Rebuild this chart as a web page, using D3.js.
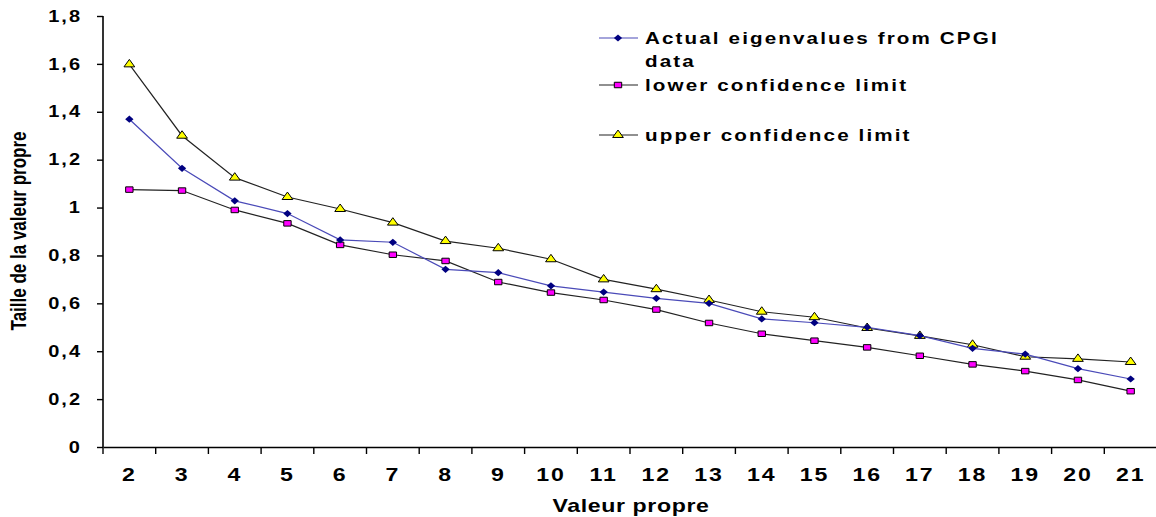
<!DOCTYPE html>
<html>
<head>
<meta charset="utf-8">
<script src="https://cdn.jsdelivr.net/npm/d3@7"></script>
<style>
  body { margin: 0; background: #fff; }
  text { font-family: "Liberation Sans", Arial, sans-serif; font-weight: bold; fill: #000; }
</style>
</head>
<body>
<div id="chart"></div>
<script>
// chart size and plot area
const width = 1156;
const height = 517;
const margin = {left: 103, right: -1, top: 16, bottom: 70};
const stretch = 1.25; // the original picture is wider than its fonts

// data
const categories = [2,3,4,5,6,7,8,9,10,11,12,13,14,15,16,17,18,19,20,21];
const actual = [1.369,1.164,1.028,0.975,0.865,0.855,0.742,0.728,0.673,0.647,0.621,0.60,0.535,0.519,0.50,0.465,0.412,0.388,0.327,0.284];
const lower  = [1.075,1.071,0.99,0.934,0.844,0.803,0.777,0.689,0.645,0.614,0.574,0.518,0.473,0.444,0.416,0.381,0.345,0.317,0.28,0.233];
const upper  = [1.598,1.30,1.125,1.044,0.994,0.937,0.86,0.83,0.784,0.70,0.659,0.614,0.565,0.542,0.497,0.464,0.427,0.377,0.368,0.355];
const yTicks = [0,0.2,0.4,0.6,0.8,1,1.2,1.4,1.6,1.8];
const seriesNames = ["Actual eigenvalues from CPGI", "lower confidence limit", "upper confidence limit"];

const svg = d3.select("#chart")
  .append("svg")
  .attr("width", width)
  .attr("height", height);

// scales
const xScale = d3.scaleBand()
  .domain(categories)
  .range([margin.left, width - margin.right])
  .padding(0);

const yScale = d3.scaleLinear()
  .domain([0, 1.8])
  .range([447, margin.top]);

const y0 = yScale(0);
const cx = d => xScale(d) + xScale.bandwidth() / 2;

// y axis
const yAxis = svg.append("g")
  .attr("transform", `translate(${margin.left},0)`)
  .call(d3.axisLeft(yScale)
    .tickValues(yTicks)
    .tickSize(6)
    .tickFormat(d => String(d).replace(".", ",")));
yAxis.select(".domain").attr("stroke-width", 1.6).attr("d", `M0,${y0}V${margin.top}`);
yAxis.selectAll(".tick line").attr("stroke-width", 1.4);
yAxis.selectAll(".tick text")
  .attr("x", 0)
  .attr("transform", `translate(-21,0) scale(${stretch},1)`)
  .attr("font-size", "16px")
  .attr("letter-spacing", "1.6px")
  .attr("font-family", null)
  .attr("fill", "#000");

// x axis: labels in the middle of each band, ticks on band edges
const xAxis = svg.append("g")
  .attr("transform", `translate(0,${y0})`)
  .call(d3.axisBottom(xScale).tickSize(0).tickPadding(21));
xAxis.select(".domain").attr("stroke-width", 1.6);
xAxis.selectAll(".tick text")
  .attr("transform", `scale(${stretch},1)`)
  .attr("font-size", "18.5px")
  .attr("letter-spacing", "1.5px")
  .attr("font-family", null)
  .attr("fill", "#000");

svg.append("g").selectAll("line")
  .data(categories)
  .enter()
  .append("line")
    .attr("x1", d => xScale(d))
    .attr("x2", d => xScale(d))
    .attr("y1", y0)
    .attr("y2", y0 + 7)
    .attr("stroke", "#000")
    .attr("stroke-width", 1.4);

// axis titles
svg.append("text")
  .attr("transform", `translate(631,512) scale(${stretch},1)`)
  .attr("text-anchor", "middle")
  .attr("font-size", "18.5px")
  .attr("letter-spacing", "0.5px")
  .text("Valeur propre");

svg.append("text")
  .attr("transform", `translate(26,231) scale(${stretch},1) rotate(-90)`)
  .attr("text-anchor", "middle")
  .attr("font-size", "17px")
  .text("Taille de la valeur propre");

// lines
const line = d3.line()
  .x((d, i) => cx(categories[i]))
  .y(d => yScale(d));

const series = [
  {name: "upper", values: upper, stroke: "#222", marker: "triangle", fill: "#ffff00"},
  {name: "lower", values: lower, stroke: "#222", marker: "square", fill: "#ff00ff"},
  {name: "actual", values: actual, stroke: "#4a4ab8", marker: "diamond", fill: "#000080"}
];

const markerShape = {
  triangle: {d: d3.symbol().type(d3.symbolTriangle).size(32)(), t: " scale(1.25,1)"},
  square: {d: d3.symbol().type(d3.symbolSquare).size(30)(), t: " scale(1.35,1)"},
  diamond: {d: d3.symbol().type(d3.symbolSquare).size(26)(), t: " scale(1.15,1) rotate(45)"}
};

function addMarker(g, x, y, s) {
  g.append("path")
    .attr("transform", `translate(${x},${y})` + markerShape[s.marker].t)
    .attr("d", markerShape[s.marker].d)
    .attr("fill", s.fill)
    .attr("stroke", s.marker === "diamond" ? "none" : "#000")
    .attr("stroke-width", 1)
    .attr("vector-effect", "non-scaling-stroke");
}

series.forEach(s => {
  svg.append("path")
    .datum(s.values)
    .attr("fill", "none")
    .attr("stroke", s.stroke)
    .attr("stroke-width", 1.2)
    .attr("d", line);

  const g = svg.append("g");
  s.values.forEach((v, i) => addMarker(g, cx(categories[i]), yScale(v), s));
});

// legend
const legendRows = [
  {label: seriesNames[0], extra: "data", y: 38, s: series[2]},
  {label: seriesNames[1], y: 85, s: series[1]},
  {label: seriesNames[2], y: 135, s: series[0]}
];

const legend = svg.append("g");
legendRows.forEach(r => {
  legend.append("line")
    .attr("x1", 599).attr("x2", 638)
    .attr("y1", r.y).attr("y2", r.y)
    .attr("stroke", r.s.stroke)
    .attr("stroke-width", 1.2);
  addMarker(legend, 618, r.y, r.s);
  legend.append("text")
    .attr("transform", `translate(645,${r.y + 6}) scale(${stretch},1)`)
    .attr("font-size", "16.5px")
    .attr("letter-spacing", "1.7px")
    .text(r.label);
  if (r.extra) {
    legend.append("text")
      .attr("transform", `translate(645,${r.y + 29}) scale(${stretch},1)`)
      .attr("font-size", "16.5px")
      .attr("letter-spacing", "1.7px")
      .text(r.extra);
  }
});
</script>
</body>
</html>
